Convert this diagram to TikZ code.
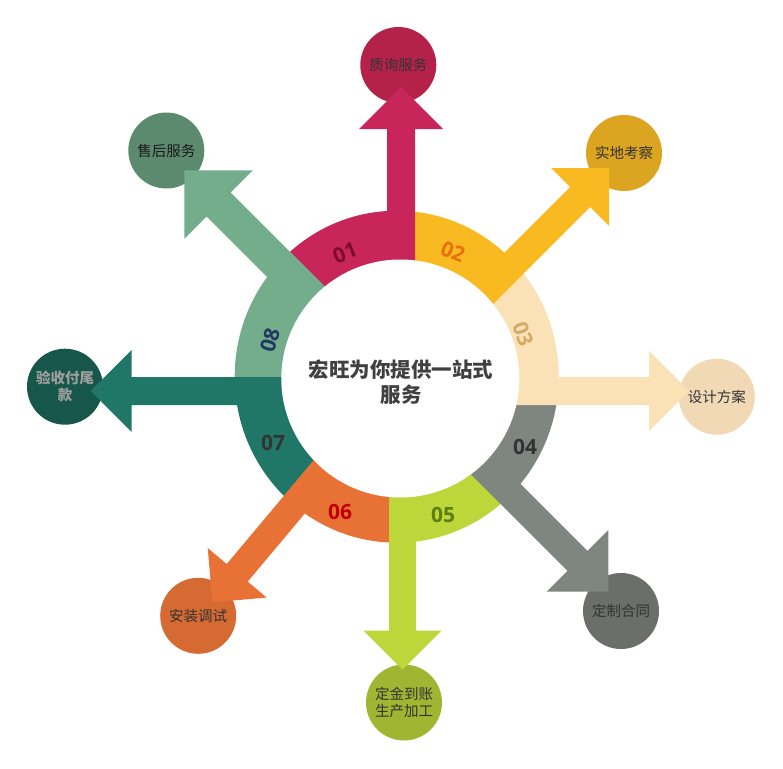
\documentclass[tikz,border=0pt]{standalone}
\usepackage{fontspec}
\setmainfont{Noto Sans CJK SC}
\newfontfamily\numfont{Open Sans}
\usetikzlibrary{calc}
\definecolor{sA}{HTML}{C8255A}\definecolor{cA}{HTML}{B52249}
\definecolor{sB}{HTML}{F9BA21}\definecolor{cB}{HTML}{DBA522}
\definecolor{sC}{HTML}{FAE1B6}\definecolor{cC}{HTML}{F1D9B6}
\definecolor{sD}{HTML}{7F857F}\definecolor{cD}{HTML}{6C6E6B}
\definecolor{sE}{HTML}{BDD73A}\definecolor{cE}{HTML}{A0B532}
\definecolor{sF}{HTML}{E87236}\definecolor{cF}{HTML}{D66A33}
\definecolor{sG}{HTML}{217767}\definecolor{cG}{HTML}{17574B}
\definecolor{sH}{HTML}{74AD8B}\definecolor{cH}{HTML}{5C8A6E}
\definecolor{txt}{HTML}{333333}
\newcommand\arrowgeo[6]{%
  \coordinate (B#1) at (#2,#3);
  \coordinate (CWo#1) at ($(B#1)+(#4+90:#5/2)$);
  \coordinate (CWi#1) at ($(CWo#1)+(#4:-250)$);
  \coordinate (CCo#1) at ($(B#1)+(#4-90:#5/2)$);
  \coordinate (CCi#1) at ($(CCo#1)+(#4:-250)$);
  \coordinate (HW#1) at ($(B#1)+(#4+90:#6)$);
  \coordinate (HC#1) at ($(B#1)+(#4-90:#6)$);
  \coordinate (T#1) at ($(B#1)+(#4:#6)$);
}
\newcommand\segment[3]{% #1 prev, #2 this, #3 colour
  \coordinate (P#2) at (intersection of CWi#1--CWo#1 and CWi#2--CWo#2);
  \begin{scope}
    \clip (P#2) -- ($(P#2)!3!(CWo#1)$) -- ($(P#2)!3!(CWo#2)$) -- cycle;
    \fill[#3] (396.7,376.7) ellipse [x radius=162pt, y radius=166pt];
  \end{scope}
}
\newcommand\arrowbody[2]{%
  \fill[#2] (CCi#1) -- (CCo#1) -- (HC#1) -- (T#1) -- (HW#1) -- (CWo#1) -- (CWi#1) -- cycle;
}
\tikzset{
  bubble/.style={circle, minimum size=76pt, inner sep=0pt, align=center,
    text=txt, font=\fontsize{14.5}{17.5}\selectfont},
  numlab/.style={inner sep=0pt, font=\numfont\bfseries\fontsize{21}{21}\selectfont},
}
\begin{document}
\begin{tikzpicture}[x=1pt,y=-1pt]
\useasboundingbox (0,0) rectangle (783,768);
\arrowgeo{1}{401}{129}{-90}{28}{42}
\arrowgeo{2}{580}{197}{-45}{28.3}{41}
\arrowgeo{3}{649}{391}{0}{28}{40}
\arrowgeo{4}{577.5}{560.8}{45}{28.3}{43.6}
\arrowgeo{5}{402.5}{630.7}{90}{27}{39}
\arrowgeo{6}{237.2}{572.8}{130}{27.4}{38.5}
\arrowgeo{7}{131.7}{391}{180}{28}{41}
\arrowgeo{8}{218.7}{204.5}{225}{34}{48.4}
% ring segments
\segment{8}{1}{sA}
\segment{1}{2}{sB}
\segment{2}{3}{sC}
\segment{3}{4}{sD}
\segment{4}{5}{sE}
\segment{5}{6}{sF}
\segment{6}{7}{sG}
\segment{7}{8}{sH}
% end bubbles
\node[bubble, fill=cA] (c1) at (398.3,65) {质询服务};
\node[bubble, fill=cB] (c2) at (624,153) {实地考察};
\node[bubble, fill=cC] (c3) at (716.8,396.7) {设计方案};
\node[bubble, fill=cD] (c4) at (621,611) {定制合同};
\node[bubble, fill=cE] (c5) at (404,702.5) {定金到账\\生产加工};
\node[bubble, fill=cF] (c6) at (198.2,615.8) {安装调试};
\node[bubble, fill=cG, text=black!38, font=\fontsize{14.5}{17}\selectfont\bfseries] (c7) at (65,386.7) {验收付尾\\款};
\node[bubble, fill=cH, text=black!90] (c8) at (166.3,150.5) {售后服务};
% arrows
\arrowbody{1}{sA}
\arrowbody{2}{sB}
\arrowbody{3}{sC}
\arrowbody{4}{sD}
\arrowbody{5}{sE}
\arrowbody{6}{sF}
\arrowbody{7}{sG}
\arrowbody{8}{sH}
% centre
\fill[white] (400.3,378.5) circle [radius=119pt];
\node[align=center, text=black!75, font=\fontsize{20.5}{25}\selectfont\bfseries] (hub) at (401,382) {宏旺为你提供一站式\\服务};
% numbers
\node[numlab, text={rgb,255:red,123;green,12;blue,46}, rotate=22] (n1) at (345,253) {01};
\node[numlab, text={rgb,255:red,232;green,112;blue,15}, rotate=-22] (n2) at (453,252) {02};
\node[numlab, text={rgb,255:red,212;green,169;blue,106}, rotate=-70] (n3) at (523,334) {03};
\node[numlab, text=txt] (n4) at (525,447) {04};
\node[numlab, text={rgb,255:red,94;green,126;blue,18}] (n5) at (443,515) {05};
\node[numlab, text={rgb,255:red,192;green,0;blue,0}] (n6) at (340,512) {06};
\node[numlab, text=txt] (n7) at (273,443) {07};
\node[numlab, text={rgb,255:red,31;green,56;blue,100}, rotate=74] (n8) at (270,340) {08};
\end{tikzpicture}
\end{document}
